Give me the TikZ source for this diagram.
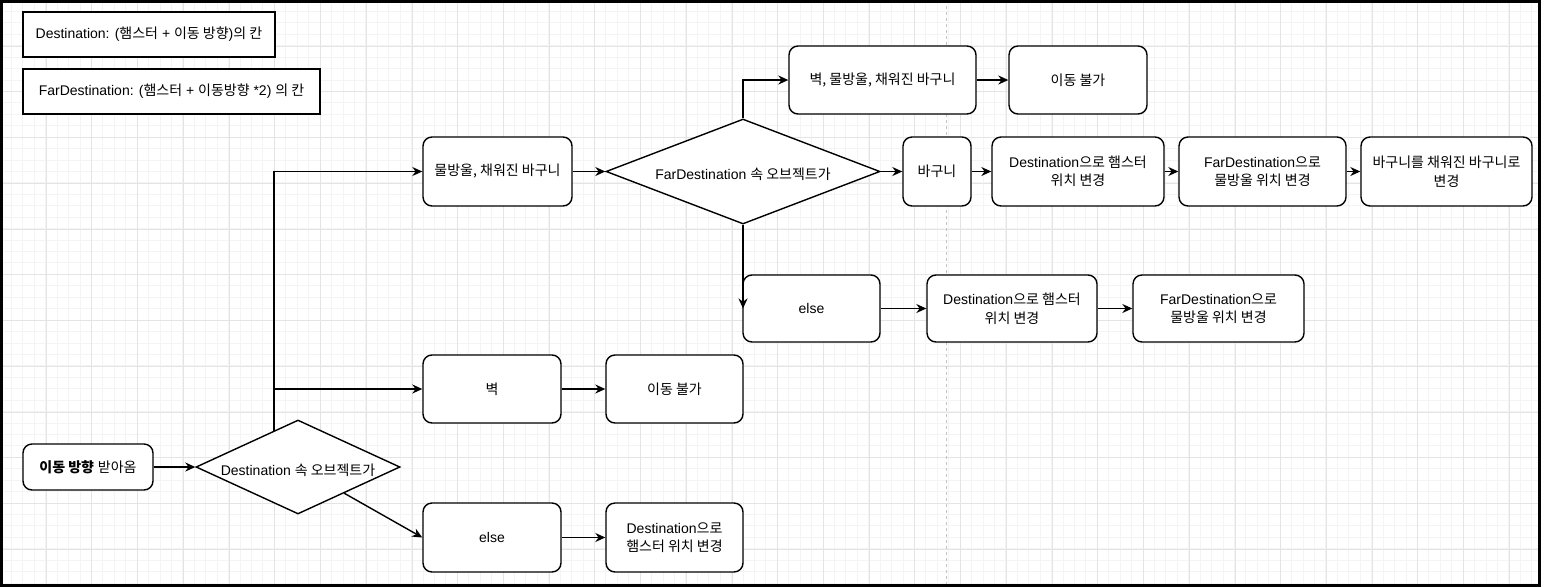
\documentclass[tikz,border=0pt]{standalone}
\usepackage{fontspec}
\setmainfont{Liberation Sans}
\newfontfamily\krfont{Noto Sans CJK KR}
\newcommand{\K}[1]{{\krfont #1}}
\usetikzlibrary{shapes.geometric,arrows.meta,calc}
\definecolor{gminor}{HTML}{F4F4F4}
\definecolor{gmajor}{HTML}{E4E4E4}
\definecolor{pagebrk}{HTML}{C4C4C4}
\begin{document}
\begin{tikzpicture}[x=1pt,y=-1pt,
  txt/.style={font=\fontsize{14}{18.5}\selectfont, text=black},
  box/.style={txt, draw=black, line width=1.4pt, rounded corners=9pt, fill=white, align=center, inner sep=2pt},
  leg/.style={txt, draw=black, line width=1.4pt, fill=white, align=center, inner sep=2pt},
  dia/.style={diamond, draw=black, line width=1.4pt, fill=white, inner sep=0pt},
  lab/.style={txt, yshift=-3pt},
  ln/.style={line width=1.4pt, draw=black},
  arr/.style={ln, -{Stealth[length=10pt,width=9pt]}}
]
\useasboundingbox (0,0) rectangle (1541,587);
\fill[white] (0,0) rectangle (1541,587);
% grid
\foreach \i in {0,...,135} \draw[gminor, line width=0.8pt] (\i*11.43,0) -- (\i*11.43,587);
\foreach \i in {0,...,52} \draw[gminor, line width=0.8pt] (0,\i*11.43) -- (1541,\i*11.43);
\foreach \i in {0,...,34} \draw[gmajor, line width=0.9pt] (0.5+\i*45.72,0) -- (0.5+\i*45.72,587);
\foreach \i in {0,...,13} \draw[gmajor, line width=0.9pt] (0,0.5+\i*45.72) -- (1541,0.5+\i*45.72);
\draw[pagebrk, line width=1pt, dash pattern=on 3pt off 3pt] (946,0) -- (946,587);

% legend
\node[leg, minimum width=252pt, minimum height=45pt] (leg1) at (149,34.5) {Destination: (\K{햄스터} + \K{이동 방향})\K{의 칸}};
\node[leg, minimum width=297pt, minimum height=45pt] (leg2) at (171.5,91.5) {FarDestination: (\K{햄스터} + \K{이동방향} *2) \K{의 칸}};

% nodes
\node[box, minimum width=130pt, minimum height=46pt] (start) at (88,467) {{\krfont\bfseries 이동 방향} \K{받아옴}};
\node[dia, minimum width=204pt, minimum height=94pt, label={[lab]center:{Destination \K{속 오브젝트가}}}] (d1) at (298,467) {};
\node[box, minimum width=149pt, minimum height=69pt] (water) at (497.5,171.5) {\K{물방울, 채워진 바구니}};
\node[dia, minimum width=274pt, minimum height=105pt, label={[lab]center:{FarDestination \K{속 오브젝트가}}}] (d2) at (743,171.5) {};
\node[box, minimum width=187pt, minimum height=68pt] (top1) at (882.5,80) {\K{벽, 물방울, 채워진 바구니}};
\node[box, minimum width=138pt, minimum height=68pt] (top2) at (1078,80) {\K{이동 불가}};
\node[box, minimum width=68pt, minimum height=69pt] (bag) at (937,171.5) {\K{바구니}};
\node[box, minimum width=172pt, minimum height=69pt] (r1) at (1078,171.5) {Destination\K{으로 햄스터}\\\K{위치 변경}};
\node[box, minimum width=167pt, minimum height=69pt] (r2) at (1262.5,171.5) {FarDestination\K{으로}\\\K{물방울 위치 변경}};
\node[box, minimum width=171pt, minimum height=69pt] (r3) at (1446.5,171.5) {\K{바구니를 채워진 바구니로}\\\K{변경}};
\node[box, minimum width=137pt, minimum height=67pt] (else2) at (811.5,308.5) {else};
\node[box, minimum width=170pt, minimum height=67pt] (m1) at (1012,308.5) {Destination\K{으로 햄스터}\\\K{위치 변경}};
\node[box, minimum width=171pt, minimum height=67pt] (m2) at (1218.5,308.5) {FarDestination\K{으로}\\\K{물방울 위치 변경}};
\node[box, minimum width=138pt, minimum height=68pt] (wall) at (492,389) {\K{벽}};
\node[box, minimum width=137pt, minimum height=68pt] (wall2) at (674.5,389) {\K{이동 불가}};
\node[box, minimum width=138pt, minimum height=69pt] (else1) at (492,537.5) {else};
\node[box, minimum width=137pt, minimum height=69pt] (dest1) at (674.5,537.5) {Destination\K{으로}\\\K{햄스터 위치 변경}};

% connectors
\coordinate (j0) at ($(d1.north)!0.235!(d1.west)$);
\draw[arr] (start.east) -- (d1.west);
\draw[arr] (j0) |- (water.west);
\draw[arr] (j0) |- (wall.west);
\draw[arr] (d1) -- (else1.west);
\draw[arr] (water.east) -- (d2.west);
\draw[arr] (d2.north) |- (top1.west);
\draw[arr] (top1.east) -- (top2.west);
\draw[arr] (d2.east) -- (bag.west);
\draw[arr] (bag.east) -- (r1.west);
\draw[arr] (r1.east) -- (r2.west);
\draw[arr] (r2.east) -- (r3.west);
\draw[arr] (d2.south) -- (d2.south |- else2.west);
\draw[arr] (else2.east) -- (m1.west);
\draw[arr] (m1.east) -- (m2.west);
\draw[arr] (wall.east) -- (wall2.west);
\draw[arr] (else1.east) -- (dest1.west);

% frame
\draw[black, line width=3pt] (1.5,1.5) rectangle (1539.5,585.5);
\end{tikzpicture}
\end{document}
